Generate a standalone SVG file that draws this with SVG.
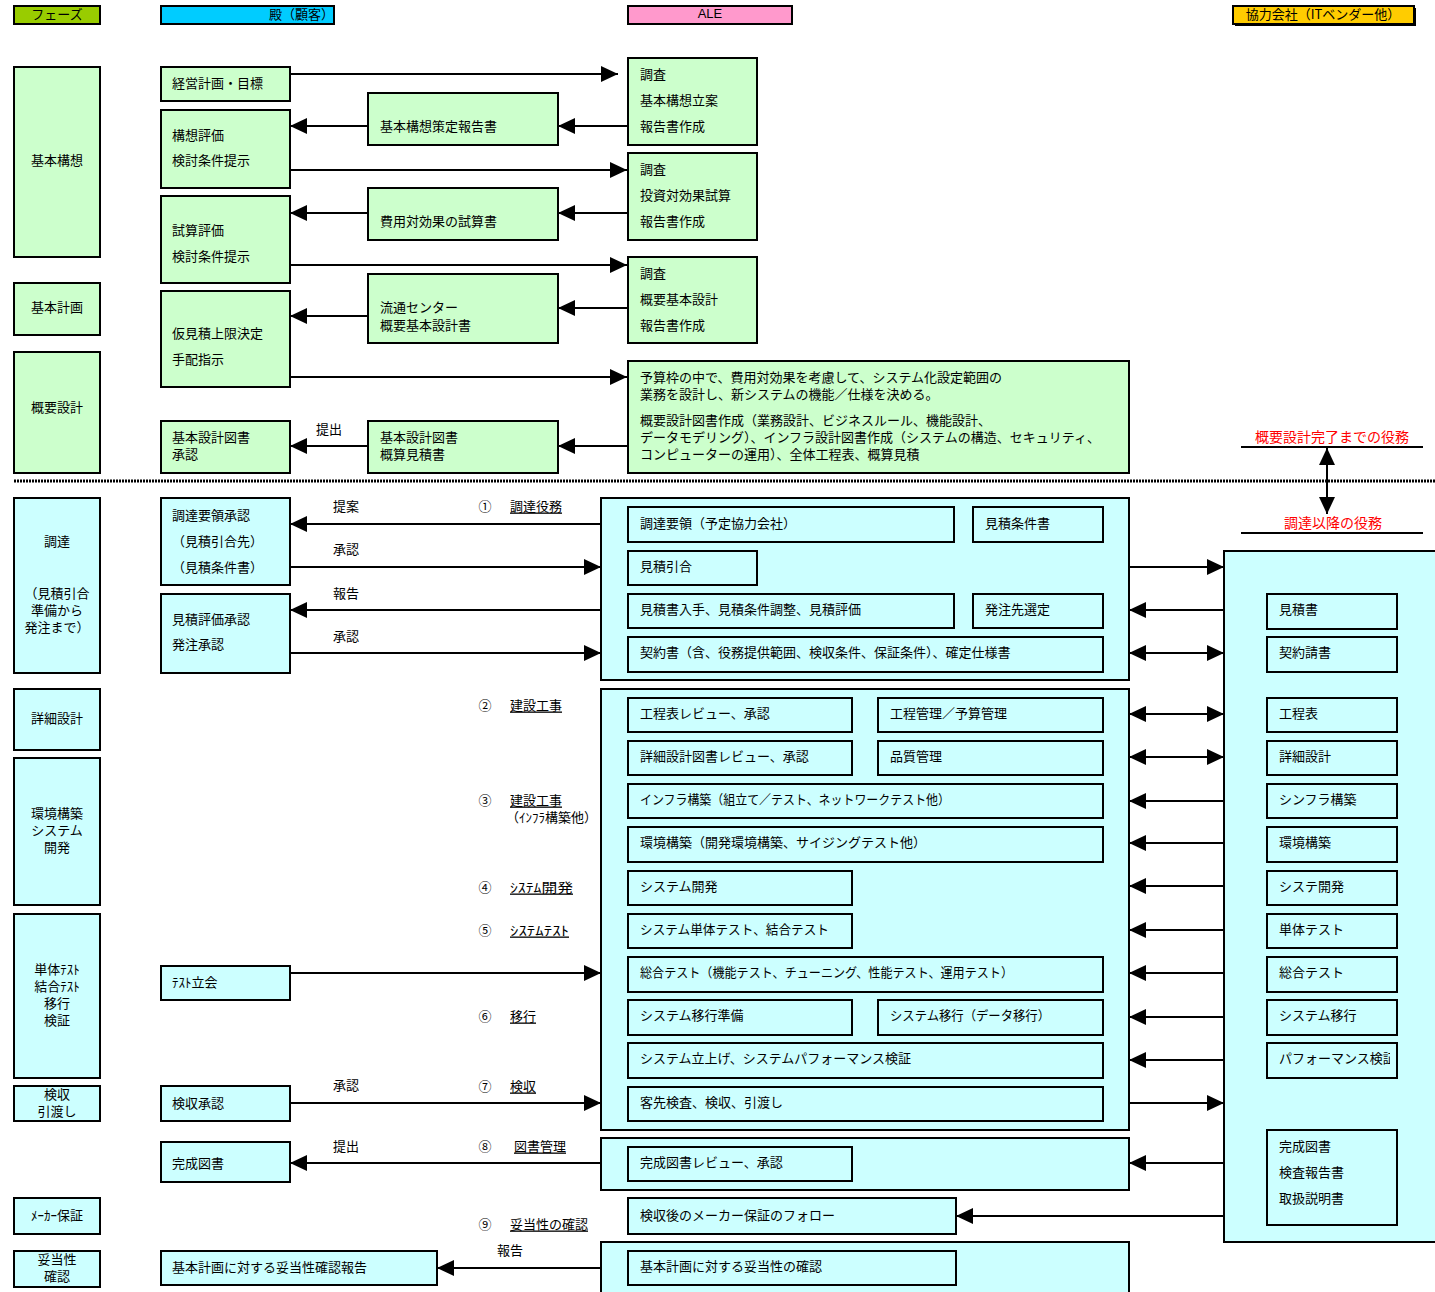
<svg xmlns="http://www.w3.org/2000/svg" width="1435" height="1292" viewBox="0 0 1435 1292">
<style>
text{font-family:"Noto Sans CJK JP","Liberation Sans",sans-serif;font-size:13px;fill:#000;dominant-baseline:central;transform:translateY(-2px)}
.b{stroke:#000;stroke-width:2}
.g{fill:#ccffcc}
.c{fill:#ccffff}
.m{text-anchor:middle}
.e{text-anchor:end}
.u{text-decoration:underline}
.red{fill:#ff0000;font-size:14px}
#conn line{stroke:#000;stroke-width:2}
.ar{marker-end:url(#ah)}
.al{marker-end:url(#ah)}
.dbl{marker-start:url(#ah);marker-end:url(#ah)}
</style>
<defs>
<marker id="ah" markerUnits="userSpaceOnUse" viewBox="0 0 17 16" markerWidth="17" markerHeight="16" refX="17" refY="8" orient="auto-start-reverse"><path d="M0,0 L17,8 L0,16 z" fill="#000"/></marker>
<clipPath id="clipPerf"><rect x="1267" y="1043" width="123" height="35"/></clipPath>
</defs>
<rect width="1435" height="1292" fill="#fff"/>

<!-- headers -->
<g id="h-phase"><rect class="b" x="14" y="6" width="86" height="18" fill="#99cc00"/><text class="m" x="57" y="15">フェーズ</text></g>
<g id="h-client"><rect class="b" x="161" y="6" width="173" height="18" fill="#00ccff"/><text class="e" x="334" y="15">殿（顧客）</text></g>
<g id="h-ale"><rect class="b" x="628" y="6" width="164" height="18" fill="#ff99cc"/><text class="m" x="710" y="15" style="font-family:'Liberation Sans',sans-serif">ALE</text></g>
<g id="h-vendor"><rect x="1235" y="8" width="181" height="18" fill="#000"/><rect class="b" x="1233" y="6" width="181" height="18" fill="#ffcc00"/><text class="m" x="1323" y="15">協力会社（ITベンダー他）</text></g>

<!-- phase column -->
<g id="p1"><rect class="b g" x="14" y="67" width="86" height="190"/><text class="m" x="57" y="161">基本構想</text></g>
<g id="p2"><rect class="b g" x="14" y="283" width="86" height="52"/><text class="m" x="57" y="308">基本計画</text></g>
<g id="p3"><rect class="b g" x="14" y="352" width="86" height="121"/><text class="m" x="57" y="408">概要設計</text></g>
<g id="p4"><rect class="b c" x="14" y="498" width="86" height="175"/><text class="m" x="57" y="542">調達</text><text class="m" x="57" y="594">（見積引合</text><text class="m" x="57" y="611">準備から</text><text class="m" x="57" y="628">発注まで）</text></g>
<g id="p5"><rect class="b c" x="14" y="689" width="86" height="61"/><text class="m" x="57" y="719">詳細設計</text></g>
<g id="p6"><rect class="b c" x="14" y="758" width="86" height="147"/><text class="m" x="57" y="814">環境構築</text><text class="m" x="57" y="831">システム</text><text class="m" x="57" y="848">開発</text></g>
<g id="p7"><rect class="b c" x="14" y="914" width="86" height="164"/><text class="m" x="57" y="970">単体ﾃｽﾄ</text><text class="m" x="57" y="987">結合ﾃｽﾄ</text><text class="m" x="57" y="1004">移行</text><text class="m" x="57" y="1021">検証</text></g>
<g id="p8"><rect class="b c" x="14" y="1086" width="86" height="35"/><text class="m" x="57" y="1095">検収</text><text class="m" x="57" y="1112">引渡し</text></g>
<g id="p9"><rect class="b c" x="14" y="1198" width="86" height="36"/><text class="m" x="57" y="1216">ﾒｰｶｰ保証</text></g>
<g id="p10"><rect class="b c" x="14" y="1251" width="86" height="36"/><text class="m" x="57" y="1260">妥当性</text><text class="m" x="57" y="1277">確認</text></g>

<!-- client column -->
<g id="c1"><rect class="b g" x="161" y="67" width="129" height="34"/><text x="172" y="84">経営計画・目標</text></g>
<g id="c2"><rect class="b g" x="161" y="110" width="129" height="78"/><text x="172" y="136">構想評価</text><text x="172" y="161">検討条件提示</text></g>
<g id="c3"><rect class="b g" x="161" y="196" width="129" height="87"/><text x="172" y="231">試算評価</text><text x="172" y="257">検討条件提示</text></g>
<g id="c4"><rect class="b g" x="161" y="291" width="129" height="96"/><text x="172" y="334">仮見積上限決定</text><text x="172" y="360">手配指示</text></g>
<g id="c5"><rect class="b g" x="161" y="421" width="129" height="52"/><text x="172" y="438">基本設計図書</text><text x="172" y="455">承認</text></g>
<g id="c6"><rect class="b c" x="161" y="498" width="129" height="87"/><text x="172" y="516">調達要領承認</text><text x="172" y="542">（見積引合先）</text><text x="172" y="568">（見積条件書）</text></g>
<g id="c7"><rect class="b c" x="161" y="594" width="129" height="79"/><text x="172" y="620">見積評価承認</text><text x="172" y="645">発注承認</text></g>
<g id="c8"><rect class="b c" x="161" y="966" width="129" height="34"/><text x="172" y="983">ﾃｽﾄ立会</text></g>
<g id="c9"><rect class="b c" x="161" y="1086" width="129" height="35"/><text x="172" y="1104">検収承認</text></g>
<g id="c10"><rect class="b c" x="161" y="1142" width="129" height="40"/><text x="172" y="1164">完成図書</text></g>
<g id="c11"><rect class="b c" x="161" y="1251" width="276" height="34"/><text x="172" y="1268">基本計画に対する妥当性確認報告</text></g>

<!-- middle documents -->
<g id="d1"><rect class="b g" x="368" y="93" width="190" height="52"/><text x="380" y="127">基本構想策定報告書</text></g>
<g id="d2"><rect class="b g" x="368" y="188" width="190" height="52"/><text x="380" y="222">費用対効果の試算書</text></g>
<g id="d3"><rect class="b g" x="368" y="274" width="190" height="69"/><text x="380" y="308">流通センター</text><text x="380" y="326">概要基本設計書</text></g>
<g id="d4"><rect class="b g" x="368" y="421" width="190" height="52"/><text x="380" y="438">基本設計図書</text><text x="380" y="455">概算見積書</text></g>

<!-- ALE upper -->
<g id="a1"><rect class="b g" x="628" y="58" width="129" height="87"/><text x="640" y="75">調査</text><text x="640" y="101">基本構想立案</text><text x="640" y="127">報告書作成</text></g>
<g id="a2"><rect class="b g" x="628" y="153" width="129" height="87"/><text x="640" y="170">調査</text><text x="640" y="196">投資対効果試算</text><text x="640" y="222">報告書作成</text></g>
<g id="a3"><rect class="b g" x="628" y="257" width="129" height="86"/><text x="640" y="274">調査</text><text x="640" y="300">概要基本設計</text><text x="640" y="326">報告書作成</text></g>
<g id="a4"><rect class="b g" x="628" y="361" width="501" height="112"/>
<text x="640" y="378">予算枠の中で、費用対効果を考慮して、システム化設定範囲の</text>
<text x="640" y="395">業務を設計し、新システムの機能／仕様を決める。</text>
<text x="640" y="421">概要設計図書作成（業務設計、ビジネスルール、機能設計、</text>
<text x="640" y="438">データモデリング）、インフラ設計図書作成（システムの構造、セキュリティ、</text>
<text x="640" y="455">コンピューターの運用）、全体工程表、概算見積</text></g>

<!-- separator -->
<line x1="14" y1="481" x2="1435" y2="481" stroke="#000" stroke-width="3" stroke-dasharray="2 1"/>

<!-- role labels -->
<g id="roles">
<text class="m red" x="1332" y="438">概要設計完了までの役務</text>
<line x1="1241" y1="447" x2="1423" y2="447" stroke="#000" stroke-width="2"/>
<text class="m red" x="1333" y="524">調達以降の役務</text>
<line x1="1241" y1="533" x2="1423" y2="533" stroke="#000" stroke-width="2"/>
</g>

<!-- ALE section 1 -->
<g id="s1"><rect class="b c" x="601" y="498" width="528" height="182"/>
<rect class="b c" x="628" y="507" width="326" height="35"/><text x="640" y="524">調達要領（予定協力会社）</text>
<rect class="b c" x="973" y="507" width="130" height="35"/><text x="985" y="524">見積条件書</text>
<rect class="b c" x="628" y="551" width="129" height="34"/><text x="640" y="567">見積引合</text>
<rect class="b c" x="628" y="594" width="326" height="34"/><text x="640" y="610">見積書入手、見積条件調整、見積評価</text>
<rect class="b c" x="973" y="594" width="130" height="34"/><text x="985" y="610">発注先選定</text>
<rect class="b c" x="628" y="637" width="475" height="35"/><text x="640" y="653">契約書（含、役務提供範囲、検収条件、保証条件）、確定仕様書</text>
</g>

<!-- ALE section 2 -->
<g id="s2"><rect class="b c" x="601" y="689" width="528" height="441"/>
<rect class="b c" x="628" y="698" width="224" height="34"/><text x="640" y="714">工程表レビュー、承認</text>
<rect class="b c" x="878" y="698" width="225" height="34"/><text x="890" y="714">工程管理／予算管理</text>
<rect class="b c" x="628" y="741" width="224" height="34"/><text x="640" y="757">詳細設計図書レビュー、承認</text>
<rect class="b c" x="878" y="741" width="225" height="34"/><text x="890" y="757">品質管理</text>
<rect class="b c" x="628" y="784" width="475" height="34"/><text x="640" y="800" textLength="310" lengthAdjust="spacingAndGlyphs">インフラ構築（組立て／テスト、ネットワークテスト他）</text>
<rect class="b c" x="628" y="827" width="475" height="35"/><text x="640" y="843">環境構築（開発環境構築、サイジングテスト他）</text>
<rect class="b c" x="628" y="871" width="224" height="34"/><text x="640" y="887">システム開発</text>
<rect class="b c" x="628" y="914" width="224" height="34"/><text x="640" y="930" textLength="189" lengthAdjust="spacingAndGlyphs">システム単体テスト、結合テスト</text>
<rect class="b c" x="628" y="957" width="475" height="35"/><text x="640" y="973" textLength="373" lengthAdjust="spacingAndGlyphs">総合テスト（機能テスト、チューニング、性能テスト、運用テスト）</text>
<rect class="b c" x="628" y="1000" width="224" height="35"/><text x="640" y="1016">システム移行準備</text>
<rect class="b c" x="878" y="1000" width="225" height="35"/><text x="890" y="1016" textLength="160" lengthAdjust="spacingAndGlyphs">システム移行（データ移行）</text>
<rect class="b c" x="628" y="1043" width="475" height="35"/><text x="640" y="1059">システム立上げ、システムパフォーマンス検証</text>
<rect class="b c" x="628" y="1087" width="475" height="34"/><text x="640" y="1103">客先検査、検収、引渡し</text>
</g>

<!-- ALE section 3 -->
<g id="s3"><rect class="b c" x="601" y="1138" width="528" height="52"/>
<rect class="b c" x="628" y="1147" width="224" height="34"/><text x="640" y="1163">完成図書レビュー、承認</text></g>
<g id="s4"><rect class="b c" x="628" y="1198" width="328" height="36"/><text x="640" y="1216">検収後のメーカー保証のフォロー</text></g>
<g id="s5"><rect class="b c" x="601" y="1242" width="528" height="60"/>
<rect class="b c" x="628" y="1251" width="328" height="34"/><text x="640" y="1267">基本計画に対する妥当性の確認</text></g>

<!-- vendor -->
<g id="v"><rect class="b c" x="1224" y="551" width="220" height="691"/>
<rect class="b c" x="1267" y="594" width="130" height="35"/><text x="1279" y="610">見積書</text>
<rect class="b c" x="1267" y="637" width="130" height="35"/><text x="1279" y="653">契約請書</text>
<rect class="b c" x="1267" y="698" width="130" height="34"/><text x="1279" y="714">工程表</text>
<rect class="b c" x="1267" y="741" width="130" height="34"/><text x="1279" y="757">詳細設計</text>
<rect class="b c" x="1267" y="784" width="130" height="34"/><text x="1279" y="800">シンフラ構築</text>
<rect class="b c" x="1267" y="827" width="130" height="35"/><text x="1279" y="843">環境構築</text>
<rect class="b c" x="1267" y="871" width="130" height="34"/><text x="1279" y="887">システ開発</text>
<rect class="b c" x="1267" y="914" width="130" height="34"/><text x="1279" y="930">単体テスト</text>
<rect class="b c" x="1267" y="957" width="130" height="35"/><text x="1279" y="973">総合テスト</text>
<rect class="b c" x="1267" y="1000" width="130" height="35"/><text x="1279" y="1016">システム移行</text>
<rect class="b c" x="1267" y="1043" width="130" height="35"/><text x="1279" y="1059" clip-path="url(#clipPerf)">パフォーマンス検証</text>
<rect class="b c" x="1267" y="1130" width="130" height="95"/><text x="1279" y="1147">完成図書</text><text x="1279" y="1173">検査報告書</text><text x="1279" y="1199">取扱説明書</text>
</g>

<!-- task labels -->
<g id="labels">
<text x="316" y="430">提出</text>
<text x="333" y="507">提案</text>
<text x="333" y="550">承認</text>
<text x="333" y="594">報告</text>
<text x="333" y="637">承認</text>
<text x="333" y="1086">承認</text>
<text x="333" y="1147">提出</text>
<text x="497" y="1251">報告</text>
<text class="m" x="485" y="507">①</text><text class="u" x="510" y="507">調達役務</text>
<text class="m" x="485" y="706">②</text><text class="u" x="510" y="706">建設工事</text>
<text class="m" x="485" y="801">③</text><text class="u" x="510" y="801">建設工事</text><text x="506" y="818">（ｲﾝﾌﾗ構築他）</text>
<text class="m" x="485" y="888">④</text><text class="u" x="510" y="888" textLength="63" lengthAdjust="spacingAndGlyphs">ｼｽﾃﾑ開発</text>
<text class="m" x="485" y="931">⑤</text><text class="u" x="510" y="931" textLength="59" lengthAdjust="spacingAndGlyphs">ｼｽﾃﾑﾃｽﾄ</text>
<text class="m" x="485" y="1017">⑥</text><text class="u" x="510" y="1017">移行</text>
<text class="m" x="485" y="1087">⑦</text><text class="u" x="510" y="1087">検収</text>
<text class="m" x="485" y="1147">⑧</text><text class="u" x="514" y="1147">図書管理</text>
<text class="m" x="485" y="1225">⑨</text><text class="u" x="510" y="1225">妥当性の確認</text>
</g>

<!-- connectors -->
<g id="conn">
<line class="ar" x1="290" y1="74" x2="618" y2="74"/>
<line class="al" x1="628" y1="126" x2="558" y2="126"/>
<line class="al" x1="368" y1="126" x2="290" y2="126"/>
<line class="ar" x1="290" y1="170" x2="627" y2="170"/>
<line class="al" x1="628" y1="213" x2="558" y2="213"/>
<line class="al" x1="368" y1="213" x2="290" y2="213"/>
<line class="ar" x1="290" y1="265" x2="627" y2="265"/>
<line class="al" x1="628" y1="308" x2="558" y2="308"/>
<line class="al" x1="368" y1="316" x2="290" y2="316"/>
<line class="ar" x1="290" y1="377" x2="627" y2="377"/>
<line class="al" x1="628" y1="446" x2="558" y2="446"/>
<line class="al" x1="368" y1="446" x2="290" y2="446"/>
<line class="dbl" x1="1327" y1="448" x2="1327" y2="514"/>
<line class="al" x1="601" y1="524" x2="290" y2="524"/>
<line class="ar" x1="290" y1="567" x2="601" y2="567"/>
<line class="al" x1="601" y1="610" x2="290" y2="610"/>
<line class="ar" x1="290" y1="653" x2="601" y2="653"/>
<line class="ar" x1="290" y1="973" x2="601" y2="973"/>
<line class="ar" x1="290" y1="1103" x2="601" y2="1103"/>
<line class="al" x1="601" y1="1163" x2="290" y2="1163"/>
<line class="al" x1="601" y1="1268" x2="437" y2="1268"/>
<line class="ar" x1="1129" y1="567" x2="1224" y2="567"/>
<line class="al" x1="1224" y1="610" x2="1129" y2="610"/>
<line class="dbl" x1="1129" y1="653" x2="1224" y2="653"/>
<line class="dbl" x1="1129" y1="714" x2="1224" y2="714"/>
<line class="dbl" x1="1129" y1="757" x2="1224" y2="757"/>
<line class="al" x1="1224" y1="801" x2="1129" y2="801"/>
<line class="al" x1="1224" y1="843" x2="1129" y2="843"/>
<line class="al" x1="1224" y1="886" x2="1129" y2="886"/>
<line class="al" x1="1224" y1="930" x2="1129" y2="930"/>
<line class="al" x1="1224" y1="973" x2="1129" y2="973"/>
<line class="al" x1="1224" y1="1017" x2="1129" y2="1017"/>
<line class="al" x1="1224" y1="1060" x2="1129" y2="1060"/>
<line class="ar" x1="1129" y1="1103" x2="1224" y2="1103"/>
<line class="al" x1="1224" y1="1163" x2="1129" y2="1163"/>
<line class="al" x1="1224" y1="1216" x2="956" y2="1216"/>
</g>
</svg>
